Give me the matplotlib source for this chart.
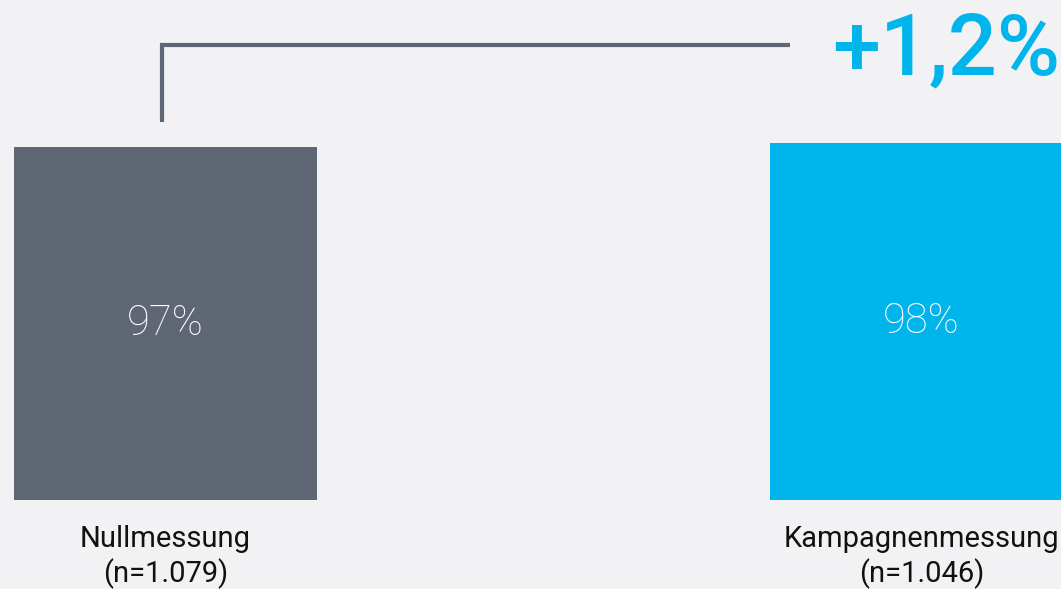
import matplotlib.pyplot as plt

categories = ["Nullmessung\n(n=1.079)", "Kampagnenmessung\n(n=1.046)"]
values = [97, 98]
value_labels = ["97%", "98%"]
diff_label = "+1,2%"

GRAY = "#5f6775"
BLUE = "#00b5ec"
BG = "#f2f2f4"

plt.rcParams["font.family"] = ["Roboto", "DejaVu Sans"]

fig = plt.figure(figsize=(10.61, 5.89), dpi=100, facecolor=BG)
ax = fig.add_axes([0, 0, 1, 1])
ax.set_facecolor(BG)

x = list(range(len(values)))
ax.bar(x, values, width=0.4, color=[GRAY, BLUE])

for xi, v, lab in zip(x, values, value_labels):
    ax.text(xi, v / 2, lab, ha="center", va="center", color="white",
            fontsize=30, fontweight="light")

for xi, cat in zip(x, categories):
    ax.text(xi, -6.8, cat, ha="center", va="top", color="#111111",
            fontsize=21, linespacing=1.25)

# bracket from first bar to the difference label
top = values[0]
ax.plot([-0.004, -0.004, 0.826], [top + 7, top + 28, top + 28],
        color=GRAY, lw=3, solid_capstyle="butt", solid_joinstyle="miter")
ax.text(1.183, top + 19.8, diff_label, ha="right", va="baseline",
        color=BLUE, fontsize=62, fontweight="medium")

ax.set_xlim(-0.2189, 1.1845)
ax.set_ylim(-24.45, 137.4)
ax.axis("off")

plt.savefig("out.png", dpi=100, facecolor=BG)
